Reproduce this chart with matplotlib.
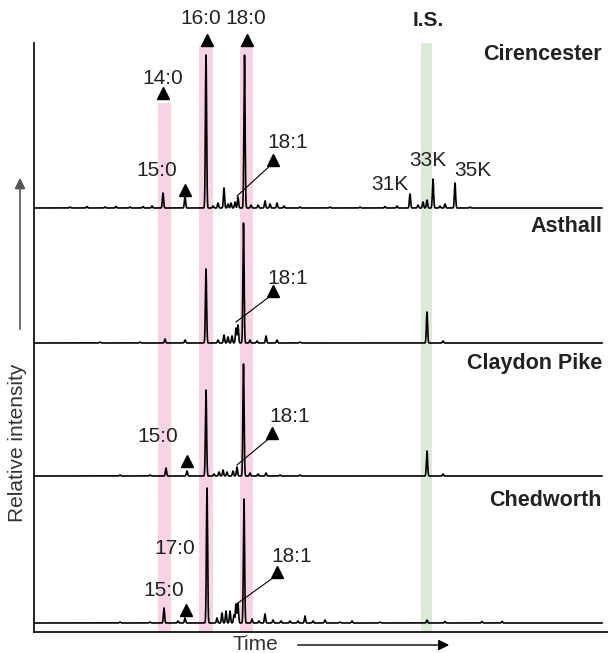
import numpy as np
import matplotlib.pyplot as plt

plt.rcParams['font.family'] = ['Liberation Sans', 'DejaVu Sans']

# peak tables: retention time (min) and height (relative intensity)
cir_rt = [3.6, 5.3, 7.1, 8.2, 9.6, 10.9, 11.8, 12.9, 15.1, 17.2, 17.9, 18.4, 19.0,
          19.4, 19.7, 20.1, 20.4, 21.05, 21.7, 22.4, 23.1, 23.6, 24.3, 25.0, 26.6,
          29.6, 32.6, 35.1, 36.3, 37.6, 38.4, 38.9, 39.3, 39.9, 40.6, 41.1, 42.1, 43.6]
cir_h = [1, 1.5, 1, 1.5, 1, 1.5, 2, 15, 12, 153, 2, 5, 20,
         4, 5, 6, 11, 153, 3, 3, 7, 4, 5, 2, 1,
         1, 1, 1.5, 2, 14, 3, 6, 8, 29, 2, 4, 25, 1]

ast_rt = [6.6, 10.6, 13.1, 15.1, 17.2, 18.4, 19.0, 19.4, 19.8, 20.2, 20.4, 20.95,
          21.6, 22.3, 23.2, 24.3, 26.6, 39.3, 40.9]
ast_h = [1, 1, 4, 3, 74, 3, 8, 6, 7, 15, 18, 120,
         3, 2, 7, 3, 1, 31, 2]

cla_rt = [8.6, 11.6, 13.2, 15.3, 17.2, 18.0, 18.5, 18.9, 19.3, 19.9, 20.3, 20.95,
          21.6, 22.4, 23.2, 24.6, 26.6, 39.3, 40.9]
cla_h = [1, 1, 8, 5, 86, 2, 4, 6, 4, 5, 9, 112,
         3, 2, 3, 1, 1, 25, 2]

che_rt = [8.6, 11.6, 13.0, 14.4, 15.1, 17.3, 18.3, 18.8, 19.2, 19.6, 20.0, 20.2,
          20.4, 21.0, 21.8, 22.5, 23.1, 23.9, 24.7, 25.6, 26.4, 27.1, 27.9, 29.1,
          30.6, 31.8, 34.6, 39.3, 41.1, 44.8, 46.8]
che_h = [1, 1, 15, 2, 5, 135, 5, 10, 12, 12, 8, 19,
         20, 124, 4, 2, 9, 3, 2, 2, 2, 7, 2, 3,
         1, 2, 1, 3, 1.5, 1.5, 1.5]

sites = ['Cirencester', 'Asthall', 'Claydon Pike', 'Chedworth']
peaks = [(cir_rt, cir_h), (ast_rt, ast_h), (cla_rt, cla_h), (che_rt, che_h)]
offsets = [424, 289, 156, 9]
name_y = [578, 405, 268, 132]

# shaded retention windows: (start, end, top)
fa_bands = [(12.4, 13.7, 529), (16.5, 17.9, 587), (20.6, 21.9, 587)]
is_band = (38.7, 39.8, 589)

t = np.arange(0, 56.8, 0.005)


def trace(rt, h, sigma=0.06):
    y = np.zeros_like(t)
    for r, a in zip(rt, h):
        y += a * np.exp(-0.5 * ((t - r) / sigma) ** 2)
    return y


fig = plt.figure(figsize=(6.08, 6.53), dpi=100)
ax = fig.add_axes([34 / 608, 21 / 653, 574 / 608, 589 / 653])
ax.set_xlim(0, 57.4)
ax.set_ylim(0, 589)

for x0, x1, top in fa_bands:
    ax.axvspan(x0, x1, ymin=0, ymax=top / 589, color='#f8d3e4', lw=0, zorder=0)
ax.axvspan(is_band[0], is_band[1], ymin=0, ymax=is_band[2] / 589,
           color='#dcebd5', lw=0, zorder=0)

for (rt, h), off, name, ny in zip(peaks, offsets, sites, name_y):
    ax.plot(t, trace(rt, h) + off, color='black', lw=1.2, zorder=3)
    ax.text(56.8, ny, name, ha='right', va='center', fontsize=15.5,
            fontweight='bold', color='#222222')

lab = dict(fontsize=15, ha='center', va='center', color='#222222')
tri = dict(marker='^', color='black', ms=8.5, ls='none', clip_on=False, zorder=4)

# top labels
for x, y, s in [(12.9, 554, '14:0'), (16.7, 613, '16:0'), (21.2, 613, '18:0')]:
    ax.text(x, y, s, clip_on=False, **lab)
ax.plot([12.9, 17.3, 21.3], [539, 592, 592], **tri)
ax.text(39.4, 611, 'I.S.', fontweight='bold', clip_on=False, **lab)

# Cirencester
ax.text(12.3, 462, '15:0', **lab)
ax.plot([15.1], [442], **tri)
ax.text(35.6, 447, '31K', **lab)
ax.text(39.4, 472, '33K', **lab)
ax.text(43.9, 461, '35K', **lab)

# Claydon Pike and Chedworth
ax.text(12.4, 195, '15:0', **lab)
ax.plot([15.3], [171], **tri)
ax.text(13.0, 42, '15:0', **lab)
ax.plot([15.2], [22], **tri)
ax.text(14.1, 84, '17:0', **lab)

# 18:1 call-outs: label, marker, line to the peak
for lx, ly, mx, my, px, py in [(25.4, 489, 23.9, 472, 20.3, 436),
                               (25.4, 354, 23.9, 341, 20.2, 310),
                               (25.6, 216, 23.8, 199, 20.3, 167),
                               (25.8, 76, 24.3, 60, 20.4, 29)]:
    ax.plot([mx, px], [my - 3, py], color='black', lw=0.8, zorder=4)
    ax.plot([mx], [my], **tri)
    ax.text(lx, ly, '18:1', **lab)

for side in ['top', 'right']:
    ax.spines[side].set_visible(False)
for side in ['left', 'bottom']:
    ax.spines[side].set_linewidth(1.2)
ax.set_xticks([])
ax.set_yticks([])

# axis arrows
fig.text(18 / 608, 210 / 653, 'Relative intensity', rotation=90, ha='center',
         va='center', fontsize=15, color='#333333')
ax.annotate('', xy=(20, 478), xytext=(20, 321), xycoords='figure pixels',
            textcoords='figure pixels',
            arrowprops=dict(arrowstyle='-|>', color='#555555', lw=1.2,
                            mutation_scale=16))
fig.text(255 / 608, 8 / 653, 'Time', ha='center', va='center', fontsize=15,
         color='#333333')
ax.annotate('', xy=(452, 8), xytext=(295, 8), xycoords='figure pixels',
            textcoords='figure pixels',
            arrowprops=dict(arrowstyle='-|>', color='black', lw=1.0,
                            mutation_scale=16))

fig.savefig('out.png', dpi=100)
